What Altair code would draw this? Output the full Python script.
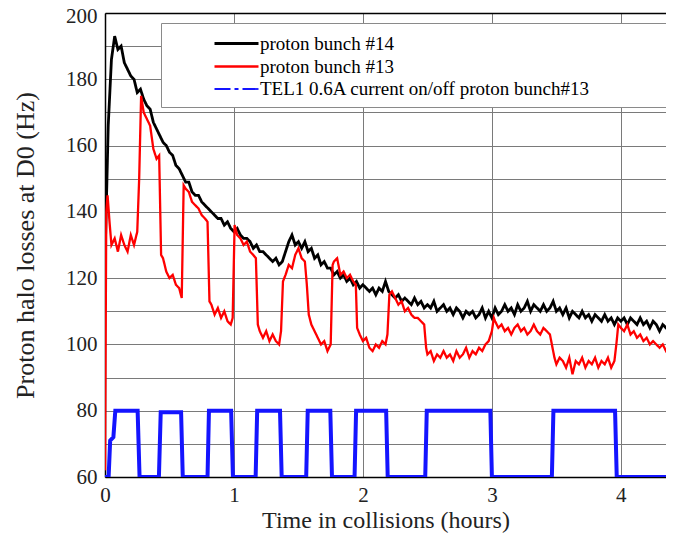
import altair as alt
import pandas as pd

# ---- data ----
series_names = ["proton bunch #14", "proton bunch #13", "TEL1 0.6A current on/off proton bunch#13"]
series_colors = ["#000000", "#ff0000", "#1414ff"]

# bunch #14, sampled every 0.025 h
black_step = 0.025
black_v = [125, 166, 186, 193, 189, 190, 185, 183, 181, 180, 176, 177, 174, 172, 171, 167, 165, 163, 161, 160,
           158, 157, 154, 153, 151, 149, 149, 146, 145, 145, 143, 142, 141, 140, 139, 138, 138, 136, 137, 135,
           134, 135, 133, 132, 132, 131, 129, 130, 128, 128, 127, 126, 125, 126, 124, 125, 128, 131, 133, 130,
           131, 129, 131, 128, 129, 126, 127, 124, 125, 123, 123, 121, 122, 120, 121, 119, 120, 118, 119, 117,
           118, 117, 116, 117, 115, 117, 116, 119, 116, 115, 114, 115, 113, 114, 113, 112, 114, 112, 113, 111,
           112, 111, 113, 110, 111, 112, 110, 111, 109, 111, 110, 108, 110, 109, 110, 108, 109, 111, 108, 110,
           108, 111, 109, 110, 112, 110, 111, 109, 112, 110, 111, 113, 110, 112, 111, 110, 112, 110, 111, 113,
           110, 111, 109, 111, 108, 110, 109, 108, 110, 108, 109, 107, 109, 108, 107, 109, 107, 108, 106, 108,
           107, 108, 106, 108, 107, 106, 108, 106, 107, 105, 107, 106, 104, 106, 105, 104, 105]

# bunch #13
red_t = [0.000, 0.010, 0.020, 0.035, 0.050, 0.075, 0.100, 0.125, 0.150, 0.175, 0.200, 0.225, 0.250, 0.265, 0.280,
         0.300, 0.325, 0.350, 0.375, 0.400, 0.420, 0.435, 0.450, 0.475, 0.500, 0.525, 0.550, 0.575, 0.595, 0.610,
         0.625, 0.650, 0.675, 0.700, 0.725, 0.750, 0.775, 0.795, 0.810, 0.825, 0.850, 0.875, 0.900, 0.925, 0.950,
         0.975, 0.990, 1.005, 1.025, 1.050, 1.075, 1.100, 1.125, 1.150, 1.170, 1.185, 1.200, 1.225, 1.250, 1.275,
         1.300, 1.325, 1.350, 1.365, 1.380, 1.400, 1.425, 1.450, 1.475, 1.500, 1.525, 1.550, 1.565, 1.580, 1.600,
         1.625, 1.650, 1.675, 1.700, 1.725, 1.750, 1.765, 1.775, 1.800, 1.825, 1.850, 1.875, 1.900, 1.925, 1.945,
         1.955, 1.975, 2.000, 2.025, 2.050, 2.075, 2.100, 2.125, 2.150, 2.175, 2.190, 2.205, 2.225, 2.250, 2.275,
         2.300, 2.325, 2.350, 2.375, 2.400, 2.425, 2.450, 2.475, 2.490, 2.500, 2.525, 2.550, 2.575, 2.600, 2.625,
         2.650, 2.675, 2.700, 2.725, 2.750, 2.775, 2.800, 2.825, 2.850, 2.875, 2.900, 2.925, 2.950, 2.975, 3.000,
         3.015, 3.025, 3.050, 3.075, 3.100, 3.125, 3.150, 3.175, 3.200, 3.225, 3.250, 3.275, 3.300, 3.325, 3.350,
         3.375, 3.400, 3.425, 3.450, 3.470, 3.485, 3.500, 3.525, 3.550, 3.575, 3.600, 3.625, 3.650, 3.675, 3.700,
         3.725, 3.750, 3.775, 3.800, 3.825, 3.850, 3.875, 3.900, 3.925, 3.950, 3.965, 3.980, 4.000, 4.025, 4.050,
         4.075, 4.100, 4.125, 4.150, 4.175, 4.200, 4.225, 4.250, 4.275, 4.300, 4.325, 4.350, 4.375, 4.400]
red_v = [62, 140, 145, 137, 130, 132, 128, 133, 130, 128, 133, 130, 134, 150, 175,
         170, 168, 166, 159, 156, 157, 127, 126, 122, 120, 121, 118, 117, 114, 148,
         147, 146, 143, 142, 141, 139, 138, 137, 113, 112, 109, 111, 108, 110, 107,
         106, 108, 136, 133, 132, 130, 131, 128, 127, 126, 106, 104, 102, 104, 101,
         103, 101, 100, 104, 119, 121, 124, 123, 127, 129, 126, 125, 118, 109, 106,
         104, 102, 100, 101, 98, 100, 124, 125, 126, 121, 122, 120, 121, 119, 118,
         105, 103, 101, 102, 99, 98, 100, 99, 101, 100, 103, 115, 116, 114, 112,
         113, 110, 111, 109, 108, 108, 107, 106, 99, 97, 98, 95, 97, 96, 98,
         96, 97, 95, 98, 96, 97, 99, 96, 98, 97, 99, 98, 100, 101, 104,
         108, 107, 105, 106, 104, 105, 103, 105, 106, 104, 105, 103, 104, 106, 104,
         103, 105, 104, 103, 99, 96, 94, 96, 95, 93, 96, 91, 95, 94, 96,
         93, 95, 94, 96, 93, 95, 94, 96, 93, 95, 100, 106, 105, 104, 106,
         103, 104, 102, 103, 101, 102, 100, 101, 100, 99, 100, 98, 99, 98]

# TEL1 current on/off (step trace)
blue_t = [0.000, 0.028, 0.040, 0.065, 0.080, 0.253, 0.268, 0.418, 0.432, 0.590, 0.603, 0.795, 0.806, 0.978,
          0.992, 1.168, 1.180, 1.357, 1.370, 1.560, 1.572, 1.747, 1.760, 1.935, 1.947, 2.180, 2.192, 2.483,
          2.495, 2.988, 3.000, 3.465, 3.477, 3.955, 3.968, 4.400]
blue_v = [60, 60, 71, 72, 80, 80, 60, 60, 79.5, 79.5, 60, 60, 80, 80,
          60, 60, 80, 80, 60, 60, 80, 80, 60, 60, 80, 80, 60, 60,
          80, 80, 60, 60, 80, 80, 60, 60]

x_ticks = [0, 1, 2, 3, 4]
y_grid = [60, 70, 80, 90, 100, 110, 120, 130, 140, 150, 160, 170, 180, 190, 200]

rows = []
for i, v in enumerate(black_v):
    rows.append({"series": series_names[0], "t": round(i * black_step, 3), "v": v, "o": i})
for i, (t, v) in enumerate(zip(red_t, red_v)):
    rows.append({"series": series_names[1], "t": t, "v": v, "o": i})
for i, (t, v) in enumerate(zip(blue_t, blue_v)):
    rows.append({"series": series_names[2], "t": t, "v": v, "o": i})
df = pd.DataFrame(rows)

FONT = "Liberation Serif"
x_scale = alt.Scale(domain=[0, 4.35], nice=False, zero=False)
y_scale = alt.Scale(domain=[60, 200], nice=False, zero=False)

x_bottom = alt.X("t:Q", scale=x_scale,
                 axis=alt.Axis(values=x_ticks, format="d", title="Time in collisions (hours)",
                               grid=True, ticks=False, tickSize=0, labelPadding=7,
                               labelFontSize=21, titleFontSize=24, titlePadding=3,
                               labelFlush=False, labelFont=FONT, titleFont=FONT))
x_top = alt.X("t:Q", scale=x_scale,
              axis=alt.Axis(orient="top", values=x_ticks, labels=False, ticks=False, grid=False,
                            title=None, domain=True))
y_enc = alt.Y("v:Q", scale=y_scale,
              axis=alt.Axis(values=y_grid, title="Proton halo losses at D0 (Hz)",
                            labelExpr="datum.value % 20 == 0 ? datum.label : ''",
                            labelOffset={"condition": {"test": "datum.value == 200", "value": 3},
                                         "value": 0},
                            grid=True, ticks=False, tickSize=0, labelPadding=8,
                            labelFontSize=21, titleFontSize=26, titlePadding=27,
                            labelFont=FONT, titleFont=FONT))

# invisible spacer title to the right of the entries widens the legend frame
legend_spacer = "\u2800" + "\u00a0" * 9 + "\u2800"
legend = alt.Legend(title=legend_spacer, titleOrient="right", titleFont=FONT, titleFontSize=19,
                    titleLimit=500, titlePadding=5,
                    orient="none", legendX=56, legendY=10,
                    fillColor="white", strokeColor="#8a8a8a", padding=8,
                    symbolType="M-2,0H2", symbolSize=484,
                    symbolOffset=55, labelOffset=11, rowPadding=-1.5,
                    labelFont=FONT, labelFontSize=19, labelLimit=700)

lines = alt.Chart(df).mark_line(clip=True).encode(
    x=x_bottom,
    y=y_enc,
    order="o:Q",
    color=alt.Color("series:N", scale=alt.Scale(domain=series_names, range=series_colors),
                    legend=legend),
    strokeDash=alt.StrokeDash("series:N",
                              scale=alt.Scale(domain=series_names,
                                              range=[[1, 0], [1, 0], [16, 4, 4, 4]]),
                              legend=legend),
    strokeWidth=alt.StrokeWidth("series:N",
                                scale=alt.Scale(domain=series_names, range=[2.8, 1.8, 2.2]),
                                legend=legend),
)

blue_solid = alt.Chart(df).transform_filter(
    alt.datum.series == series_names[2]
).mark_line(strokeWidth=4, color=series_colors[2], clip=True).encode(
    x=x_top, y=y_enc, order="o:Q"
)

chart = alt.layer(lines, blue_solid).resolve_axis(x="independent").properties(
    width=561, height=464,
    autosize=alt.AutoSizeParams(type="none"),
    padding={"left": 97, "top": 5, "right": 0, "bottom": 57},
).configure(font=FONT).configure_view(
    stroke=None
).configure_axis(
    labelColor="#222", titleColor="#222",
    titleFontWeight="normal", gridColor="#7a7a7a", gridWidth=1,
    domainColor="black", domainWidth=1.5
).configure_legend(labelFont=FONT, titleFont=FONT)

chart.save("out.html", embed_options={"renderer": "svg", "actions": False})
